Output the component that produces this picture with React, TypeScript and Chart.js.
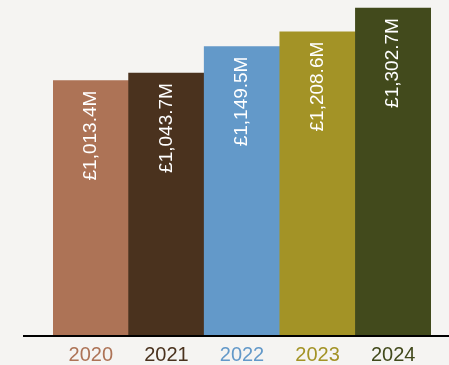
import React, { useEffect, useRef } from "react";
import { Chart, registerables } from "chart.js";

Chart.register(...registerables);

const years = ["2020", "2021", "2022", "2023", "2024"];
const revenue = [1013.4, 1043.7, 1149.5, 1208.6, 1302.7];
const valueLabels = ["£1,013.4M", "£1,043.7M", "£1,149.5M", "£1,208.6M", "£1,302.7M"];
const barColors = ["#ad7356", "#4a321e", "#6399c9", "#a39326", "#424a1c"];
const yearColors = ["#ad7356", "#4a321e", "#6399c9", "#a39326", "#424a1c"];

const FONT = "'Liberation Sans', Arial, sans-serif";

const overlay = {
  id: "overlay",
  afterDatasetsDraw(chart: any) {
    const ctx = chart.ctx;
    const meta = chart.getDatasetMeta(0);
    ctx.save();
    ctx.fillStyle = "#ffffff";
    ctx.font = `19px ${FONT}`;
    ctx.textAlign = "right";
    ctx.textBaseline = "middle";
    meta.data.forEach((bar: any, i: number) => {
      ctx.save();
      ctx.translate(bar.x, bar.y + 10);
      ctx.rotate(-Math.PI / 2);
      ctx.fillText(valueLabels[i], 0, 0);
      ctx.restore();
    });
    // baseline
    const y = chart.chartArea.bottom + 1;
    ctx.strokeStyle = "#000000";
    ctx.lineWidth = 2;
    ctx.beginPath();
    ctx.moveTo(23, y);
    ctx.lineTo(449, y);
    ctx.stroke();
    ctx.restore();
  },
};

export default function App() {
  const ref = useRef<HTMLCanvasElement>(null);
  useEffect(() => {
    document.body.style.margin = "0";
    const chart = new Chart(ref.current!, {
      type: "bar",
      data: {
        labels: years,
        datasets: [
          {
            data: revenue,
            backgroundColor: barColors,
            borderWidth: 0,
            barPercentage: 1,
            categoryPercentage: 1,
          },
        ],
      },
      options: {
        animation: false,
        responsive: false,
        maintainAspectRatio: false,
        layout: { padding: { left: 53, right: 18, top: 0, bottom: -10 } },
        plugins: { legend: { display: false }, tooltip: { enabled: false } },
        scales: {
          x: {
            grid: { display: false, drawTicks: false },
            border: { display: false },
            ticks: {
              color: yearColors,
              font: { family: FONT, size: 20, lineHeight: 1 },
              padding: 10,
              maxRotation: 0,
            },
          },
          y: {
            display: false,
            min: 0,
            max: 1335,
          },
        },
      },
      plugins: [overlay],
    });
    return () => chart.destroy();
  }, []);
  return (
    <div style={{ width: 449, height: 365, background: "#f5f4f2" }}>
      <canvas ref={ref} width={449} height={365} />
    </div>
  );
}
